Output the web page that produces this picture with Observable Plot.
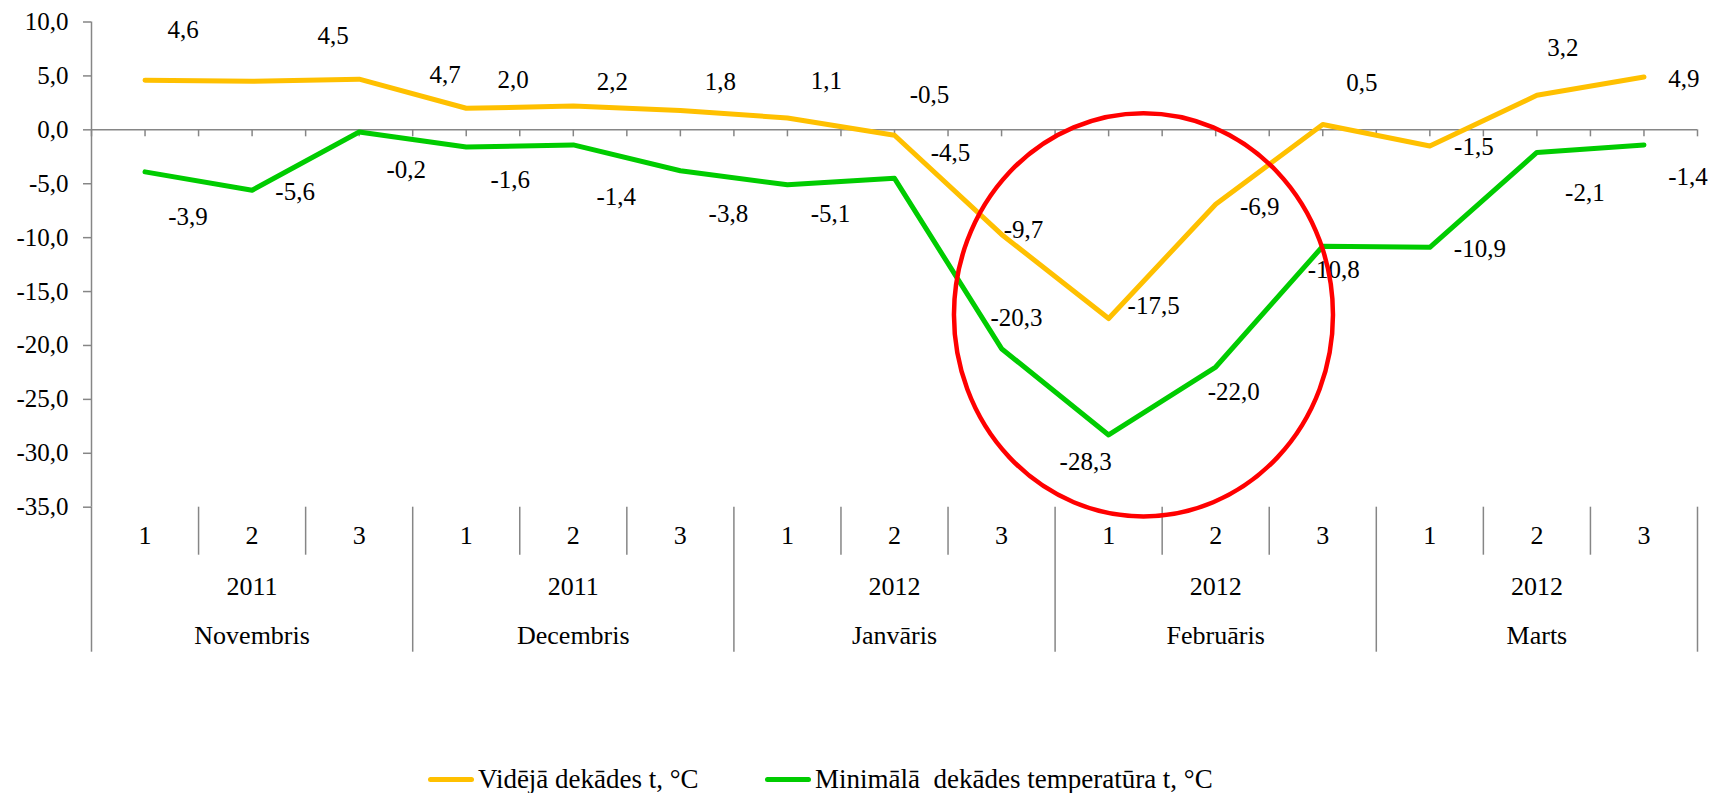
<!DOCTYPE html>
<html><head><meta charset="utf-8">
<script src="https://cdn.jsdelivr.net/npm/d3@7"></script>
<script src="https://cdn.jsdelivr.net/npm/@observablehq/plot@0.6"></script>
<style>
html,body{margin:0;padding:0;background:#fff;}
body{width:1713px;height:793px;overflow:hidden;font-family:"Liberation Serif","Times New Roman",serif;}
#legend{height:34px;position:relative;font-family:"Liberation Serif","Times New Roman",serif;font-size:27px;color:#000;}
.item{position:absolute;top:0;height:34px;display:flex;align-items:center;white-space:pre;}
.sw{display:inline-block;width:46px;height:5px;border-radius:3px;margin-right:4px;}
</style></head><body>
<div id="chart"></div>
<div id="legend"></div>
<script>
// ---- data ----
const decades = ["1","2","3","1","2","3","1","2","3","1","2","3","1","2","3"];
const years = ["2011","2011","2012","2012","2012"];
const months = ["Novembris","Decembris","Janvāris","Februāris","Marts"];
const avgTemp = [4.6, 4.5, 4.7, 2.0, 2.2, 1.8, 1.1, -0.5, -9.7, -17.5, -6.9, 0.5, -1.5, 3.2, 4.9];
const minTemp = [-3.9, -5.6, -0.2, -1.6, -1.4, -3.8, -5.1, -4.5, -20.3, -28.3, -22.0, -10.8, -10.9, -2.1, -1.4];
const yTicks = [10, 5, 0, -5, -10, -15, -20, -25, -30, -35];
const seriesNames = ["Vidējā dekādes t, °C", "Minimālā  dekādes temperatūra t, °C"];

// ---- layout / style ----
const colors = ["#FFC000", "#00CC00"];
const gray = "#868686";
const W = 1713, H = 762;
const mL = 91, mR = 16, mT = 21.5, mB = 255.3;
const pxPerUnit = (H - mB - mT) / 45;
const FS = 25, CFS = 26;
// label nudges in px (label centre relative to its point), mimicking the hand-placed labels
const avgNudge = [[38,-50],[81,-45],[86,-4],[47,-28],[39,-24],[40,-28],[39,-37],[35,-40],[22,-4],[45,-13],[44,3],[39,-41],[44,1],[26,-47],[40,2]];
const minNudge = [[43,45],[43,2],[47,38],[44,33],[43,52],[48,43],[43,29],[56,-25],[15,-31],[-23,27],[18,25],[11,24],[50,2],[48,41],[44,32]];
// red highlight ring (in data units: decade index, °C)
const ring = {x: 10.33, y: -17.2, rx: 1.77, ry: 18.7};

const fmt = v => v.toFixed(1).replace(".", ",");
const n = decades.length;
const idx = d3.range(1, n + 1);
const halfTicks = d3.range(0.5, n + 0.51, 0.5);
const monthBounds = d3.range(0, months.length + 1).map(m => 3 * m + 0.5);
const decadeBounds = d3.range(1.5, n, 1).filter(b => !monthBounds.includes(b));

const avgRows = avgTemp.map((v, k) => ({i: k + 1, v}));
const minRows = minTemp.map((v, k) => ({i: k + 1, v}));

const labelMarks = (rows, nudges) => rows.map((r, k) =>
  Plot.text([r], {x: "i", y: "v", text: d => fmt(d.v), dx: nudges[k][0], dy: nudges[k][1], fontSize: FS, fill: "#000"}));

const ringMark = (index, scales) => {
  const {x, y} = scales;
  const cx = x(ring.x), cy = y(ring.y);
  const rx = Math.abs(x(ring.x + ring.rx) - cx), ry = Math.abs(y(ring.y + ring.ry) - cy);
  return d3.create("svg:ellipse").attr("cx", cx).attr("cy", cy).attr("rx", rx).attr("ry", ry)
    .attr("fill", "none").attr("stroke", "#FF0000").attr("stroke-width", 4.5).node();
};

const chart = Plot.plot({
  width: W, height: H,
  marginLeft: mL, marginRight: mR, marginTop: mT, marginBottom: mB,
  style: {fontFamily: "'Liberation Serif','Times New Roman',serif", fontSize: FS + "px", background: "white", overflow: "visible", color: "#000"},
  x: {type: "linear", domain: [0.5, n + 0.5], label: null},
  y: {domain: [-35, 10], label: null},
  marks: [
    Plot.ruleY([0], {stroke: gray, strokeWidth: 1.5}),
    Plot.ruleX(halfTicks, {x: d => d, y1: 0, y2: -7 / pxPerUnit, stroke: gray, strokeWidth: 1.5}),
    Plot.ruleX([0.5], {stroke: gray, strokeWidth: 1.5}),
    Plot.axisY(yTicks, {tickSize: 8, tickPadding: 15, tickFormat: fmt, fontSize: FS, stroke: gray, strokeWidth: 1.5, label: null}),
    Plot.axisX(decadeBounds, {tickSize: 48, tickFormat: () => "", stroke: gray, strokeWidth: 1.5, label: null}),
    Plot.axisX(monthBounds, {tickSize: 145, tickFormat: () => "", stroke: gray, strokeWidth: 1.5, label: null}),
    Plot.text(idx, {x: d => d, text: d => decades[d - 1], frameAnchor: "bottom", dy: 36.5, fontSize: CFS, fill: "#000"}),
    Plot.text(years, {x: (d, m) => 3 * m + 2, text: d => d, frameAnchor: "bottom", dy: 87.5, fontSize: CFS, fill: "#000"}),
    Plot.text(months, {x: (d, m) => 3 * m + 2, text: d => d, frameAnchor: "bottom", dy: 136.5, fontSize: CFS, fill: "#000"}),
    Plot.line(avgRows, {x: "i", y: "v", stroke: colors[0], strokeWidth: 5, strokeLinecap: "round", strokeLinejoin: "round"}),
    Plot.line(minRows, {x: "i", y: "v", stroke: colors[1], strokeWidth: 5, strokeLinecap: "round", strokeLinejoin: "round"}),
    ...labelMarks(avgRows, avgNudge),
    ...labelMarks(minRows, minNudge),
    ringMark
  ]
});
document.getElementById("chart").appendChild(chart);

// ---- legend ----
const legend = document.getElementById("legend");
const legendLeft = [428, 765];
seriesNames.forEach((name, k) => {
  const it = document.createElement("div");
  it.className = "item";
  it.style.left = legendLeft[k] + "px";
  it.innerHTML = `<span class="sw" style="background:${colors[k]}"></span><span></span>`;
  it.lastChild.textContent = name;
  legend.appendChild(it);
});
</script>
</body></html>
